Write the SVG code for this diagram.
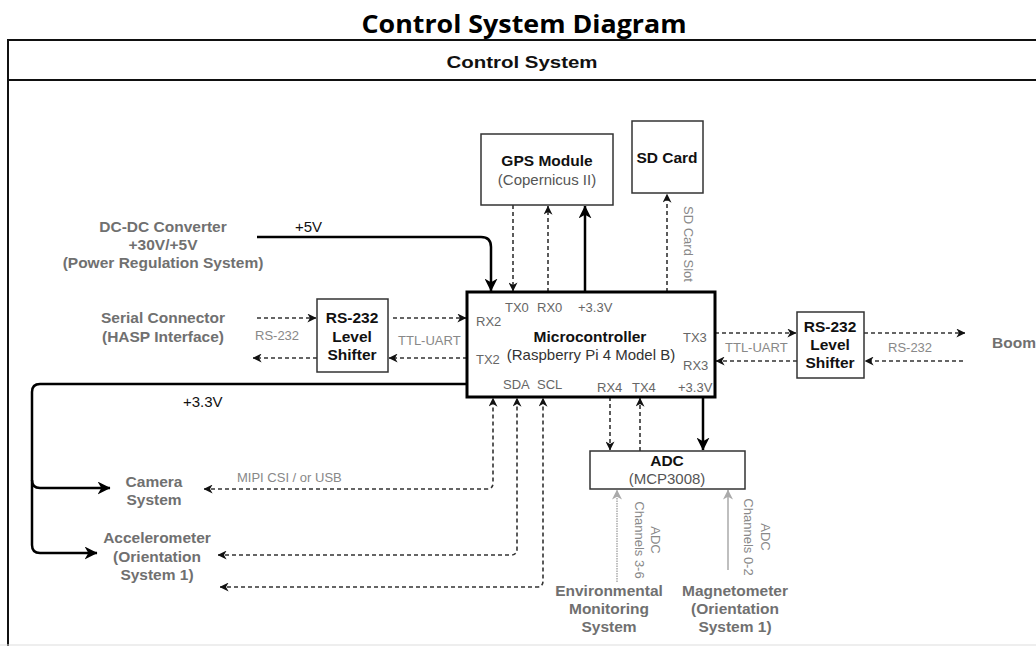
<svg xmlns="http://www.w3.org/2000/svg" width="1036" height="646" viewBox="0 0 1036 646">
<style>
text{font-family:"Liberation Sans",Arial,sans-serif}
.box{fill:#fff;stroke:#333;stroke-width:1.5}
.bt{font-weight:bold;font-size:15.5px;fill:#111;text-anchor:middle}
.st{font-size:15px;fill:#555;text-anchor:middle}
.gl{font-weight:bold;font-size:15.5px;fill:#707070;text-anchor:middle}
.pin{font-size:13px;fill:#666}
.ll{font-size:13px;fill:#888}
.pw{font-size:15px;fill:#111}
.thick{fill:none;stroke:#000;stroke-width:2.5}
.dash{fill:none;stroke:#333;stroke-width:1.6;stroke-dasharray:4 3}
.frame{fill:none;stroke:#111;stroke-width:2}
</style>
<defs>
<marker id="ahl" viewBox="0 0 12 12" refX="11.5" refY="6" markerWidth="13" markerHeight="13" markerUnits="userSpaceOnUse" orient="auto-start-reverse"><path d="M0,0 L12,6 L0,12 L3.5,6 Z" fill="#000"/></marker>
<marker id="ahs" viewBox="0 0 12 12" refX="11.5" refY="6" markerWidth="9" markerHeight="9" markerUnits="userSpaceOnUse" orient="auto-start-reverse"><path d="M0,0 L12,6 L0,12 L3.5,6 Z" fill="#111"/></marker>
<marker id="ahg" viewBox="0 0 12 12" refX="11.5" refY="6" markerWidth="10" markerHeight="10" markerUnits="userSpaceOnUse" orient="auto-start-reverse"><path d="M0,0 L12,6 L0,12 L3.5,6 Z" fill="#aaa"/></marker>
</defs>
<rect x="0" y="0" width="1036" height="646" fill="#fff"/>

<g id="title">
<text x="524" y="33" text-anchor="middle" style="font-family:'Open Sans','Liberation Sans',sans-serif;font-weight:bold;font-size:25px;fill:#000" textLength="325" lengthAdjust="spacingAndGlyphs">Control System Diagram</text>
</g>

<g id="frame">
<path class="frame" d="M1036,40 H8 V646"/>
<line class="frame" x1="8" y1="80" x2="1036" y2="80"/>
<line x1="0" y1="645" x2="1036" y2="645" stroke="#ddd" stroke-width="1"/>
<text x="522" y="68" text-anchor="middle" style="font-weight:bold;font-size:17px;fill:#111" textLength="151" lengthAdjust="spacingAndGlyphs">Control System</text>
</g>

<g id="connectors">
<!-- +5V -->
<path class="thick" d="M257,237 H481 Q491,237 491,247 V291" marker-end="url(#ahl)"/>
<!-- GPS -->
<path class="dash" d="M513,205 V291" marker-end="url(#ahs)"/>
<path class="dash" d="M548,292 V206" marker-end="url(#ahs)"/>
<path class="thick" d="M585,292 V206" marker-end="url(#ahl)"/>
<!-- SD -->
<path class="dash" d="M667,292 V194" marker-end="url(#ahs)"/>
<!-- left shifter -->
<path class="dash" d="M257,318 H316" marker-end="url(#ahs)"/>
<path class="dash" d="M317,358 H253" marker-end="url(#ahs)"/>
<path class="dash" d="M393,318 H466" marker-end="url(#ahs)"/>
<path class="dash" d="M467,358 H389" marker-end="url(#ahs)"/>
<!-- right shifter -->
<path class="dash" d="M715,333 H796" marker-end="url(#ahs)"/>
<path class="dash" d="M797,361 H716" marker-end="url(#ahs)"/>
<path class="dash" d="M864,333 H965" marker-end="url(#ahs)"/>
<path class="dash" d="M963,361 H865" marker-end="url(#ahs)"/>
<!-- +3.3V left bus -->
<path class="thick" d="M467,384 H40 Q32,384 32,392 V480 Q32,488 40,488 H110" marker-end="url(#ahl)"/>
<path class="thick" d="M32,480 V545 Q32,553 40,553 H97" marker-end="url(#ahl)"/>
<!-- bottom dashed to camera/accel -->
<path class="dash" d="M204,489 H487 Q493,489 493,483 V398" marker-start="url(#ahs)" marker-end="url(#ahs)"/>
<path class="dash" d="M218,555 H511 Q517,555 517,549 V398" marker-start="url(#ahs)" marker-end="url(#ahs)"/>
<path class="dash" d="M220,587 H537 Q543,587 543,581 V398" marker-start="url(#ahs)" marker-end="url(#ahs)"/>
<!-- ADC links -->
<path class="dash" d="M610,397 V450" marker-end="url(#ahs)"/>
<path class="dash" d="M640,451 V398" marker-end="url(#ahs)"/>
<path class="thick" d="M703,397 V450" marker-end="url(#ahl)"/>
<path d="M617,582 V490" fill="none" stroke="#aaa" stroke-width="1.5" stroke-dasharray="1.5 1" marker-end="url(#ahg)"/>
<path d="M728,570 V490" fill="none" stroke="#aaa" stroke-width="1.5" marker-end="url(#ahg)"/>
</g>

<g id="connector-labels">
<text class="pw" x="295" y="232">+5V</text>
<text class="ll" x="255" y="340">RS-232</text>
<text class="ll" x="398" y="345">TTL-UART</text>
<text class="ll" x="725" y="352">TTL-UART</text>
<text class="ll" x="888" y="352">RS-232</text>
<text class="pw" x="183" y="407">+3.3V</text>
<text class="ll" x="237" y="482">MIPI CSI / or USB</text>
<text class="ll" transform="translate(684,244) rotate(90)" text-anchor="middle" x="0" y="0">SD Card Slot</text>
<g transform="translate(651,540) rotate(90)"><text class="ll" text-anchor="middle" x="0" y="0">ADC</text><text class="ll" text-anchor="middle" x="0" y="16">Channels 3-6</text></g>
<g transform="translate(761,537) rotate(90)"><text class="ll" text-anchor="middle" x="0" y="0">ADC</text><text class="ll" text-anchor="middle" x="0" y="17">Channels 0-2</text></g>
</g>

<g id="gps">
<rect class="box" x="481" y="134" width="132" height="71"/>
<text class="bt" x="547" y="166">GPS Module</text>
<text class="st" x="547" y="185">(Copernicus II)</text>
</g>

<g id="sdcard">
<rect class="box" x="632" y="121" width="71" height="72"/>
<text class="bt" x="667" y="163">SD Card</text>
</g>

<g id="mcu">
<rect x="467" y="292" width="248" height="105" fill="#fff" stroke="#000" stroke-width="3"/>
<text class="pin" x="505" y="312">TX0</text>
<text class="pin" x="537" y="312">RX0</text>
<text class="pin" x="578" y="312">+3.3V</text>
<text class="pin" x="476" y="326">RX2</text>
<text class="pin" x="476" y="364">TX2</text>
<text class="pin" x="683" y="342">TX3</text>
<text class="pin" x="683" y="370">RX3</text>
<text class="pin" x="503" y="389">SDA</text>
<text class="pin" x="537" y="389">SCL</text>
<text class="pin" x="597" y="392">RX4</text>
<text class="pin" x="632" y="392">TX4</text>
<text class="pin" x="678" y="392">+3.3V</text>
<text class="bt" x="590" y="342">Microcontroller</text>
<text class="st" x="591" y="360" style="fill:#333">(Raspberry Pi 4 Model B)</text>
</g>

<g id="shifter-left">
<rect class="box" x="317" y="299" width="71" height="73"/>
<text class="bt" x="352" y="323">RS-232</text>
<text class="bt" x="352" y="342">Level</text>
<text class="bt" x="352" y="360">Shifter</text>
</g>

<g id="shifter-right">
<rect class="box" x="797" y="312" width="67" height="66"/>
<text class="bt" x="830" y="332">RS-232</text>
<text class="bt" x="830" y="350">Level</text>
<text class="bt" x="830" y="368">Shifter</text>
</g>

<g id="adc">
<rect class="box" x="590" y="451" width="155" height="38"/>
<text class="bt" x="667" y="466">ADC</text>
<text class="st" x="667" y="484">(MCP3008)</text>
</g>

<g id="dcdc">
<text class="gl" x="163" y="232">DC-DC Converter</text>
<text class="gl" x="163" y="250">+30V/+5V</text>
<text class="gl" x="163" y="268">(Power Regulation System)</text>
</g>

<g id="serial">
<text class="gl" x="163" y="323">Serial Connector</text>
<text class="gl" x="163" y="342">(HASP Interface)</text>
</g>

<g id="boom">
<text class="gl" x="992" y="348" style="text-anchor:start">Boom</text>
</g>

<g id="camera">
<text class="gl" x="154" y="487">Camera</text>
<text class="gl" x="154" y="505">System</text>
</g>

<g id="accelerometer">
<text class="gl" x="157" y="543">Accelerometer</text>
<text class="gl" x="157" y="562">(Orientation</text>
<text class="gl" x="157" y="580">System 1)</text>
</g>

<g id="environmental">
<text class="gl" x="609" y="596">Environmental</text>
<text class="gl" x="609" y="614">Monitoring</text>
<text class="gl" x="609" y="632">System</text>
</g>

<g id="magnetometer">
<text class="gl" x="735" y="596">Magnetometer</text>
<text class="gl" x="735" y="614">(Orientation</text>
<text class="gl" x="735" y="632">System 1)</text>
</g>
</svg>
